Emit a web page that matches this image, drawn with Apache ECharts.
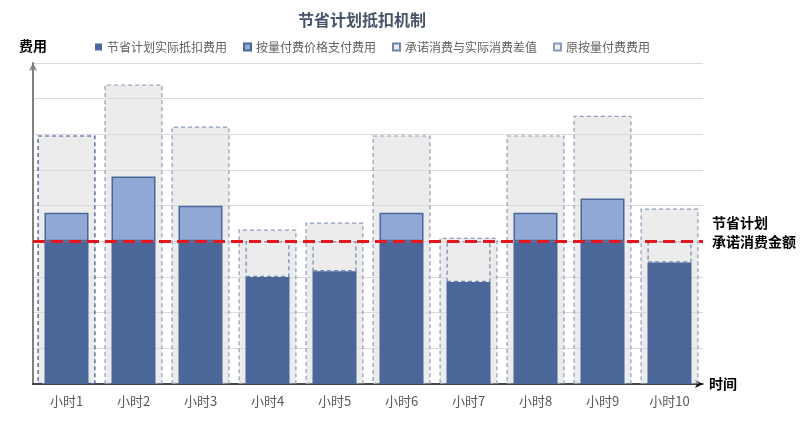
<!DOCTYPE html>
<html>
<head>
<meta charset="utf-8">
<script src="https://cdn.jsdelivr.net/npm/echarts@6/dist/echarts.min.js"></script>
<style>
  html, body { margin: 0; padding: 0; background: #fff; }
  #chart { width: 805px; height: 434px; }
</style>
</head>
<body>
<div id="chart"></div>
<script>
var hours = ['小时1', '小时2', '小时3', '小时4', '小时5', '小时6', '小时7', '小时8', '小时9', '小时10'];
// 节省计划承诺消费金额
var commitment = 4;
// 原按量付费费用
var origCost = [6.97, 8.4, 7.22, 4.33, 4.53, 6.97, 4.1, 6.97, 7.52, 4.92];
// 节省计划实际抵扣费用
var actualDeduct = [4, 4, 4, 3.0, 3.16, 4, 2.86, 4, 4, 3.41];
// 按量付费价格支付费用
var paygCost = [0.8, 1.82, 1.0, 0, 0, 0.8, 0, 0.8, 1.2, 0];
// 承诺消费与实际消费差值
var gapCost = actualDeduct.map(function (v) { return commitment - v; });

var font = '"Noto Sans CJK SC", "Noto Sans", sans-serif';
var chart = echarts.init(document.getElementById('chart'));

function skipZero(arr) {
    return arr.map(function (v) { return v > 0.001 ? v : '-'; });
}

var option = {
    animation: false,
    textStyle: { fontFamily: font },
    title: {
        text: '节省计划抵扣机制',
        left: 293,
        top: 7,
        textStyle: { fontSize: 16, fontWeight: 'bold', color: '#44546a', fontFamily: font }
    },
    legend: {
        left: 90,
        top: 36,
        itemWidth: 7,
        itemHeight: 7,
        itemGap: 16,
        icon: 'rect',
        textStyle: { fontSize: 12, color: '#5f5f5f', fontFamily: font },
        data: ['节省计划实际抵扣费用', '按量付费价格支付费用', '承诺消费与实际消费差值', '原按量付费费用']
    },
    grid: { left: 33, right: 102, top: 63, bottom: 50 },
    xAxis: [
        {
            type: 'category',
            data: hours,
            name: '时间',
            nameGap: 6,
            nameTextStyle: { fontSize: 14, fontWeight: 'bold', color: '#000', fontFamily: font, verticalAlign: 'middle' },
            axisLine: { lineStyle: { color: '#111', width: 1.5 }, symbol: ['none', 'arrow'], symbolSize: [6, 8] },
            axisTick: { show: false },
            axisLabel: { color: '#595959', fontSize: 13, margin: 11, fontFamily: font }
        },
        { type: 'category', data: hours, show: false }
    ],
    yAxis: {
        type: 'value',
        min: 0,
        max: 9,
        interval: 1,
        name: '费用',
        nameGap: 10,
        nameTextStyle: { fontSize: 14, fontWeight: 'bold', color: '#000', fontFamily: font },
        axisLine: { show: true, lineStyle: { color: '#808080', width: 2 }, symbol: ['none', 'arrow'], symbolSize: [6, 8] },
        axisTick: { show: false },
        axisLabel: { show: false },
        splitLine: { lineStyle: { color: '#dadada', width: 1 } }
    },
    series: [
        {
            name: '原按量付费费用',
            type: 'bar',
            xAxisIndex: 1,
            barWidth: 58,
            data: origCost.map(function (v, i) {
                return i === 0 ? { value: v, itemStyle: { borderColor: '#34508a' } } : v;
            }),
            itemStyle: {
                color: 'rgba(220,220,220,0.55)',
                borderColor: '#8c9cbc',
                borderWidth: 1.2,
                borderType: [4, 3]
            }
        },
        {
            name: '节省计划实际抵扣费用',
            type: 'bar',
            stack: 'inner',
            barWidth: 44,
            data: actualDeduct,
            itemStyle: { color: '#4b6699' },
            markLine: {
                silent: true,
                symbol: 'none',
                z: 10,
                lineStyle: { color: '#e3171d', width: 3, type: [12, 6] },
                label: {
                    position: 'end',
                    distance: 9,
                    formatter: '节省计划\n承诺消费金额\n ',
                    fontSize: 14,
                    fontWeight: 'bold',
                    color: '#000',
                    lineHeight: 19,
                    fontFamily: font
                },
                data: [{ yAxis: commitment }]
            }
        },
        {
            name: '按量付费价格支付费用',
            type: 'bar',
            stack: 'inner',
            barWidth: 44,
            data: skipZero(paygCost),
            itemStyle: { color: '#91a8d4', borderColor: '#4b6699', borderWidth: 1.5 }
        },
        {
            name: '承诺消费与实际消费差值',
            type: 'bar',
            stack: 'inner',
            barWidth: 44,
            data: skipZero(gapCost),
            itemStyle: {
                color: '#ececec',
                borderColor: '#6f86b2',
                borderWidth: 1.2,
                borderType: [4, 3]
            }
        }
    ]
};

chart.setOption(option);
</script>
</body>
</html>
